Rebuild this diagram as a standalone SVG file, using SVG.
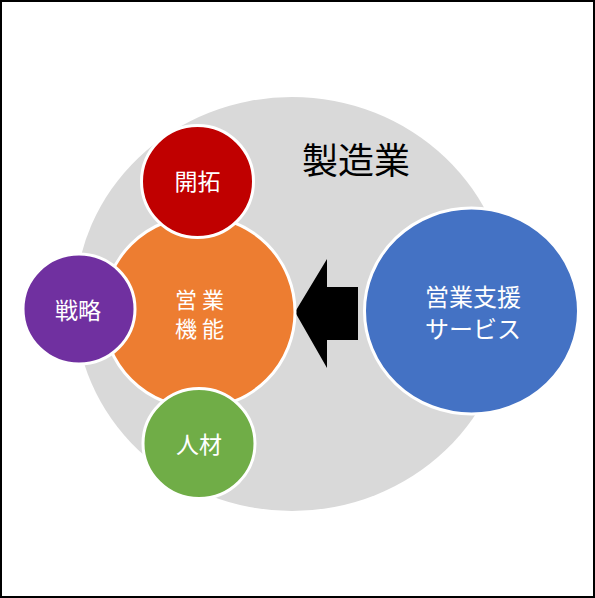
<svg xmlns="http://www.w3.org/2000/svg" width="595" height="598" viewBox="0 0 595 598">
<style>
.c{stroke:#fff;stroke-width:3}
.t{font-family:"Noto Sans CJK JP","Noto Sans",sans-serif;fill:#fff;text-anchor:middle}
</style>
<rect x="1" y="1" width="593" height="596" fill="#fff" stroke="#000" stroke-width="2"/>
<g id="manufacturing">
<ellipse cx="292" cy="304" rx="217" ry="207" fill="#d9d9d9"/>
<text x="356" y="174" font-family="Noto Sans CJK JP, sans-serif" font-size="36" text-anchor="middle" fill="#000">製造業</text>
</g>
<g id="connectors">
<polygon points="295,312 327,259 327,287 358,287 358,340 327,340 327,368" fill="#000"/>
</g>
<g id="sales">
<circle class="c" cx="199" cy="312" r="96" fill="#ed7d31"/>
<text class="t" font-size="22"><tspan x="186" y="308">営</tspan><tspan x="213" y="308">業</tspan><tspan x="186" y="337">機</tspan><tspan x="213" y="337">能</tspan></text>
</g>
<g id="kaitaku">
<circle class="c" cx="197.5" cy="181.5" r="56" fill="#c00000"/>
<text class="t" x="197.5" y="190" font-size="23">開拓</text>
</g>
<g id="senryaku">
<ellipse class="c" cx="79" cy="309" rx="56" ry="55" fill="#7030a0"/>
<text class="t" x="78" y="319" font-size="23">戦略</text>
</g>
<g id="jinzai">
<ellipse class="c" cx="199" cy="443.5" rx="56" ry="55" fill="#70ad47"/>
<text class="t" x="199" y="453" font-size="23">人材</text>
</g>
<g id="support">
<ellipse class="c" cx="471.5" cy="311" rx="107" ry="103" fill="#4472c4"/>
<text class="t" x="473" y="306" font-size="24">営業支援</text>
<text class="t" x="473" y="338" font-size="24">サービス</text>
</g>
</svg>
